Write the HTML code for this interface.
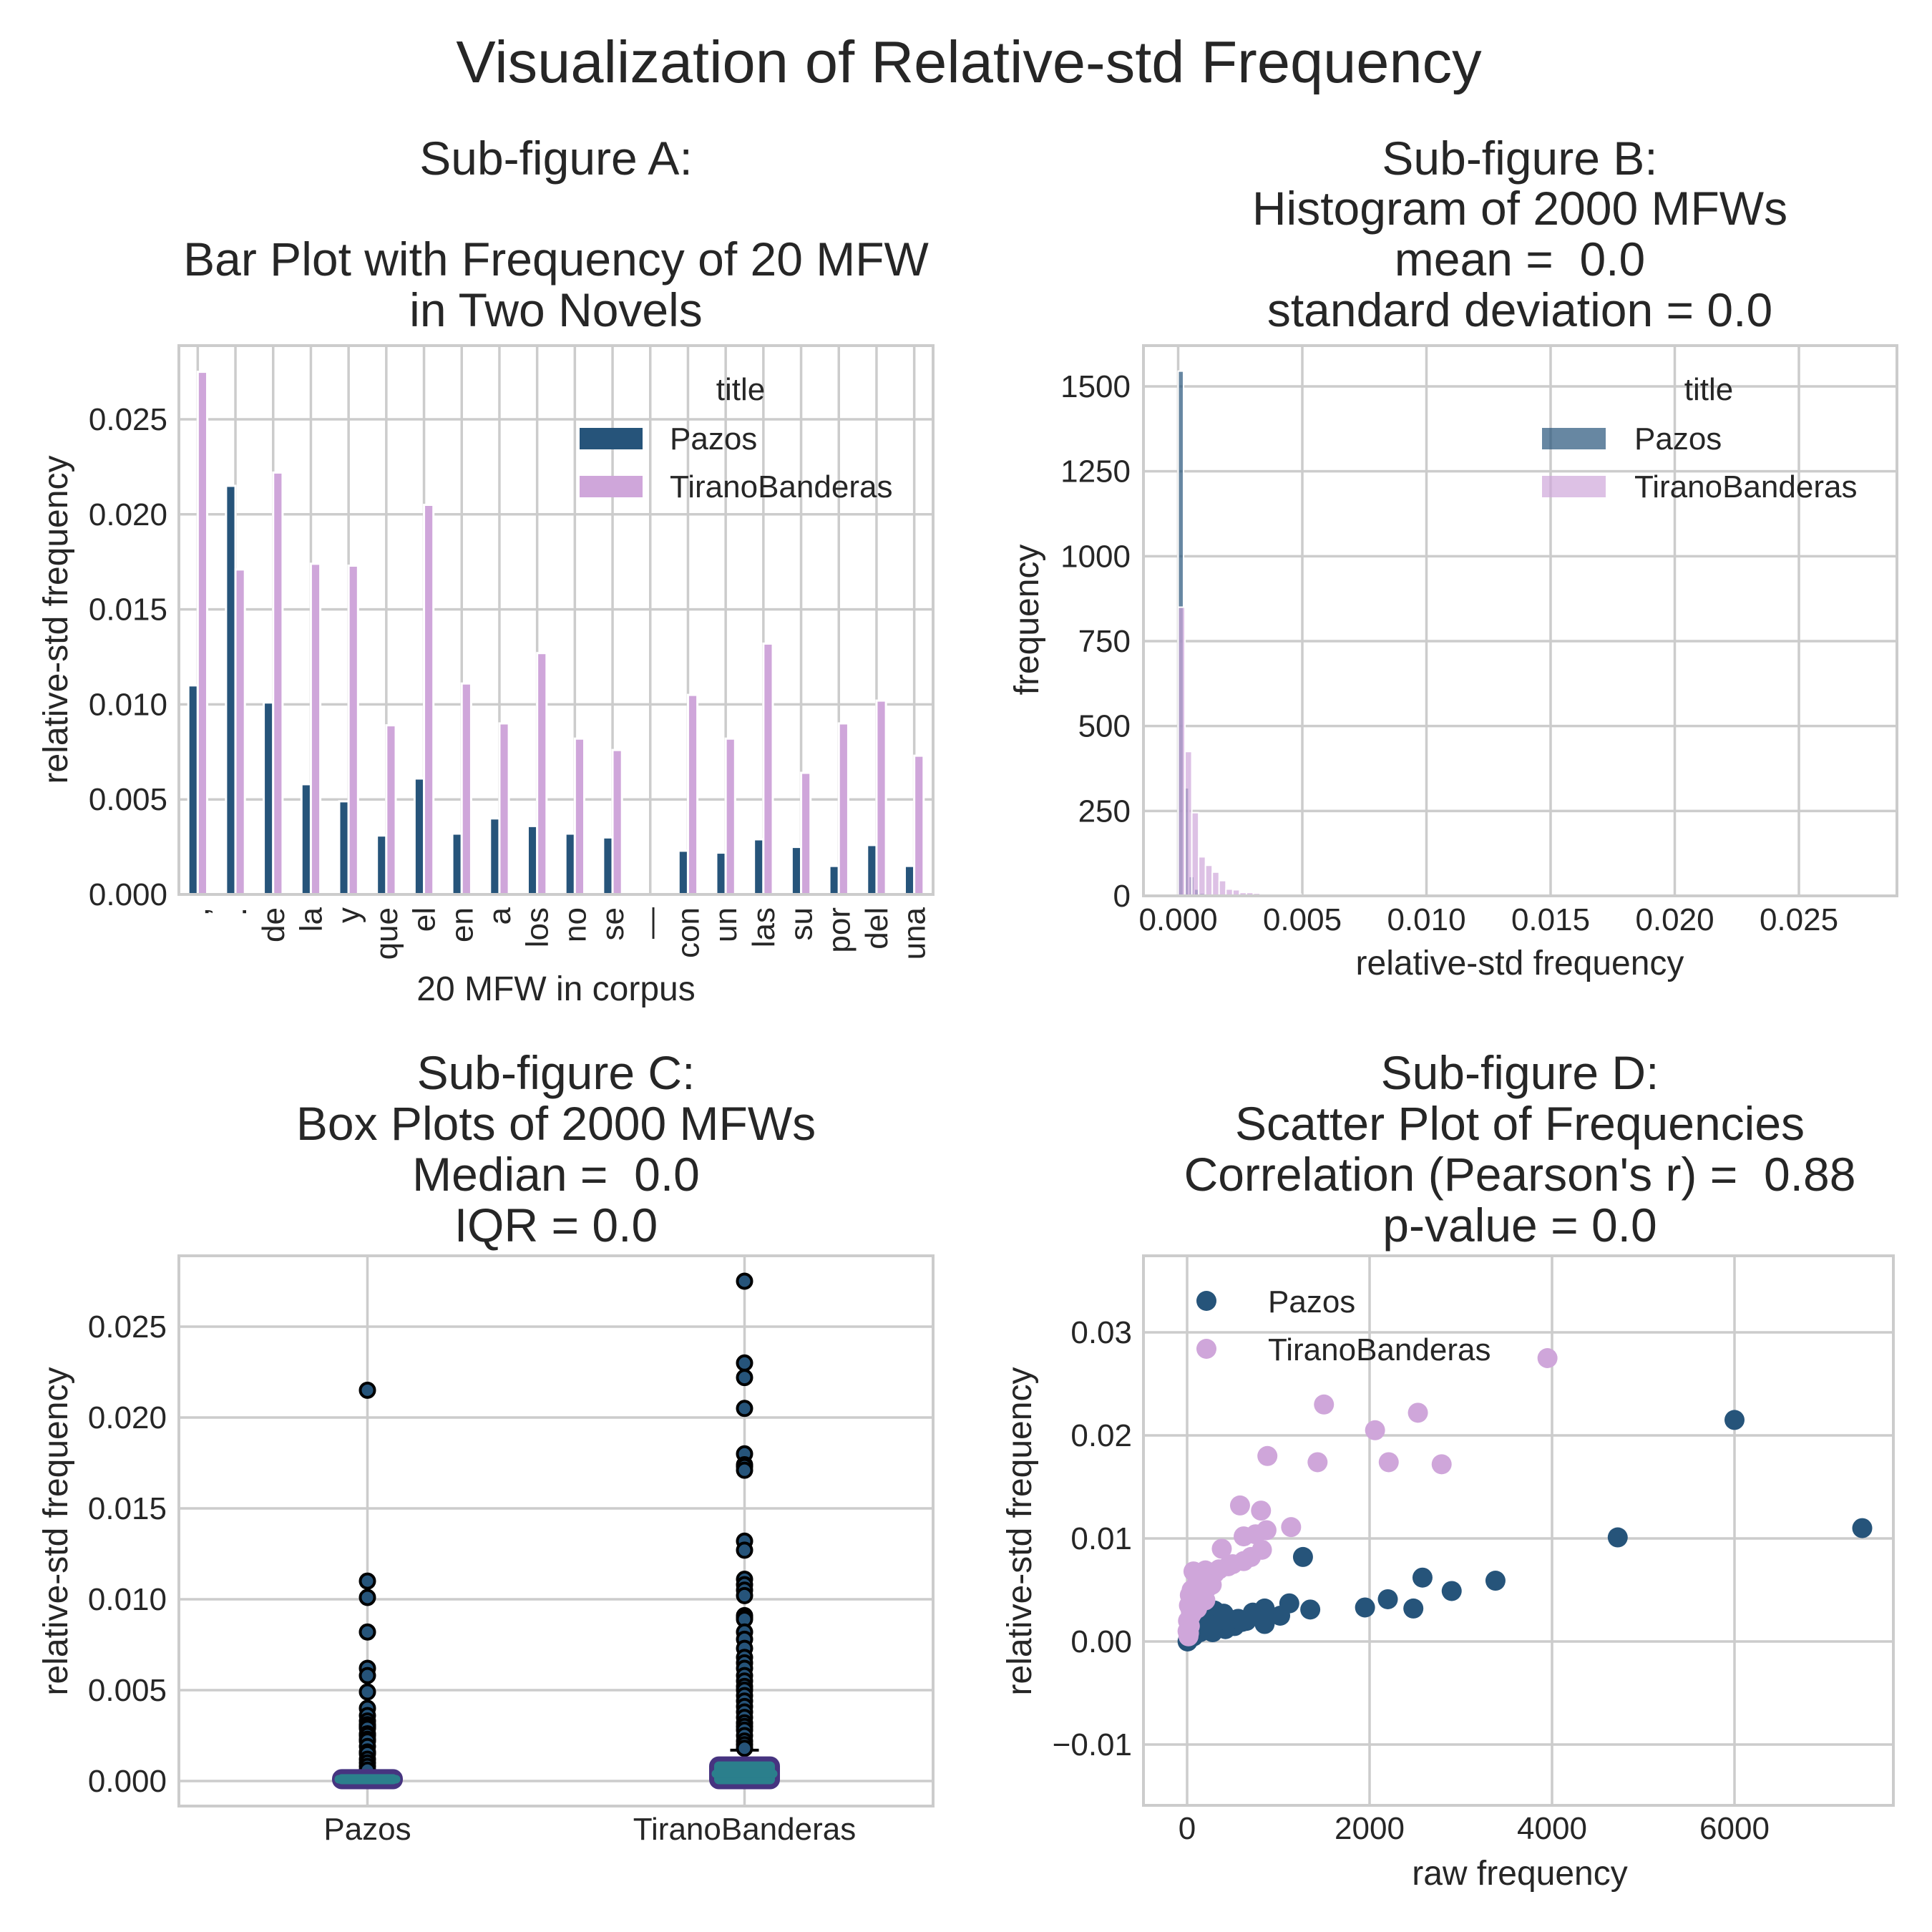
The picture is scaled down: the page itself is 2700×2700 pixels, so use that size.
<!DOCTYPE html>
<html><head><meta charset="utf-8"><style>
html,body{margin:0;padding:0;background:#fff;}
svg{display:block;font-family:"Liberation Sans",sans-serif;fill:#262626;}
text{white-space:pre;}
</style></head><body>
<svg id="fig" width="2700" height="2700" viewBox="0 0 2700 2700" xmlns="http://www.w3.org/2000/svg">
<rect width="2700" height="2700" fill="#fff"/>
<text x="1354" y="115" font-size="83" text-anchor="middle">Visualization of Relative-std Frequency</text>
<g font-size="66" text-anchor="middle">
<text x="777" y="244">Sub-figure A:</text>
<text x="777" y="385">Bar Plot with Frequency of 20 MFW</text>
<text x="777" y="456">in Two Novels</text></g>
<g font-size="66" text-anchor="middle">
<text x="2124" y="244">Sub-figure B:</text>
<text x="2124" y="314">Histogram of 2000 MFWs</text>
<text x="2124" y="385">mean =&#160; 0.0</text>
<text x="2124" y="456">standard deviation = 0.0</text></g>
<g font-size="66" text-anchor="middle">
<text x="777" y="1522">Sub-figure C:</text>
<text x="777" y="1593">Box Plots of 2000 MFWs</text>
<text x="777" y="1664">Median =&#160; 0.0</text>
<text x="777" y="1735">IQR = 0.0</text></g>
<g font-size="66" text-anchor="middle">
<text x="2124" y="1522">Sub-figure D:</text>
<text x="2124" y="1593">Scatter Plot of Frequencies</text>
<text x="2124" y="1664">Correlation (Pearson's r) =&#160; 0.88</text>
<text x="2124" y="1735">p-value = 0.0</text></g>
</svg>
<script>
// ---- Chart A data ----
const words = [",", ".", "de", "la", "y", "que", "el", "en", "a", "los", "no", "se", "—", "con", "un", "las", "su", "por", "del", "una"];
const barPazos = [0.0110, 0.0215, 0.0101, 0.0058, 0.0049, 0.0031, 0.0061, 0.0032, 0.0040, 0.0036, 0.0032, 0.0030, 0, 0.0023, 0.0022, 0.0029, 0.0025, 0.0015, 0.0026, 0.0015];
const barTirano = [0.0275, 0.0171, 0.0222, 0.0174, 0.0173, 0.0089, 0.0205, 0.0111, 0.0090, 0.0127, 0.0082, 0.0076, 0, 0.0105, 0.0082, 0.0132, 0.0064, 0.0090, 0.0102, 0.0073];
const ticksA = [0, 0.005, 0.010, 0.015, 0.020, 0.025];
const tickLabelsA = ["0.000", "0.005", "0.010", "0.015", "0.020", "0.025"];
// ---- Chart B data ----
const histPazosMax = 0.0215;
const histTiranoMax = 0.0275;
const histPazos = [1545, 318, 57, 20, 8, 5, 3, 2, 1, 1, 1, 0, 0, 0, 0, 0, 0, 0, 0, 0];
const histTirano = [850, 425, 245, 115, 90, 70, 45, 20, 18, 10, 10, 8, 5, 4, 3, 2, 2, 5, 2, 1];
const ticksBx = [0, 0.005, 0.010, 0.015, 0.020, 0.025];
const tickLabelsBx = ["0.000", "0.005", "0.010", "0.015", "0.020", "0.025"];
const ticksBy = [0, 250, 500, 750, 1000, 1250, 1500];
// ---- Chart C data ----
const boxNames = ["Pazos", "TiranoBanderas"];
const boxQ1 = [0.0000, 0.0000];
const boxQ3 = [0.0002, 0.0009];
const boxMedian = [0.0001, 0.0004];
const boxWhiskerHigh = [0.0005, 0.0017];
const outPazos = [0.0215, 0.0110, 0.0101, 0.0082, 0.0062, 0.0058, 0.0049, 0.0040, 0.0036, 0.0033, 0.0031, 0.0030, 0.0029, 0.0026, 0.0025, 0.0023, 0.0022, 0.0019, 0.0016, 0.0015, 0.0012, 0.0010, 0.0008, 0.0006];
const outTirano = [0.0275, 0.0230, 0.0222, 0.0205, 0.0180, 0.0174, 0.0173, 0.0171, 0.0132, 0.0127, 0.0111, 0.0108, 0.0105, 0.0102, 0.0091, 0.0090, 0.0089, 0.0082, 0.0078, 0.0073, 0.0068, 0.0065, 0.0062, 0.0058, 0.0055, 0.0052, 0.0050, 0.0047, 0.0044, 0.0041, 0.0038, 0.0035, 0.0032, 0.0030, 0.0028, 0.0025, 0.0022, 0.0020, 0.0018];
const ticksC = [0, 0.005, 0.010, 0.015, 0.020, 0.025];
// ---- Chart D data ----
const scPazosX = [7400, 6000, 4720, 3380, 2900, 2580, 2480, 2200, 1950, 1350, 1270, 1120, 1020, 850, 850, 720, 600, 450, 400, 350, 300, 250, 200, 180, 150, 120, 100, 80, 60, 50, 40, 30, 20, 10, 5, 420, 520, 650, 280, 230, 330, 380, 260, 160, 140, 90, 70, 500, 560];
const scPazosY = [0.0110, 0.0215, 0.0101, 0.0059, 0.0049, 0.0062, 0.0032, 0.0041, 0.0033, 0.0031, 0.0082, 0.0037, 0.0025, 0.0032, 0.0017, 0.0028, 0.0019, 0.0022, 0.0027, 0.0015, 0.0030, 0.0022, 0.0018, 0.0012, 0.0014, 0.0010, 0.0008, 0.0007, 0.0006, 0.0005, 0.0004, 0.0003, 0.0002, 0.0001, 0.0000, 0.0012, 0.0015, 0.0020, 0.0009, 0.0025, 0.0020, 0.0024, 0.0016, 0.0020, 0.0009, 0.0012, 0.0005, 0.0018, 0.0022];
const scTiranoX = [3950, 1500, 2530, 2060, 880, 1430, 2210, 2790, 580, 810, 1140, 870, 750, 620, 380, 820, 700, 620, 450, 300, 200, 70, 150, 250, 100, 50, 30, 20, 120, 180, 60, 40, 10, 5, 90, 220, 140, 350, 500, 40, 80, 110, 30, 160, 60, 200, 20, 15, 270];
const scTiranoY = [0.0275, 0.0230, 0.0222, 0.0205, 0.0180, 0.0174, 0.0174, 0.0172, 0.0132, 0.0127, 0.0111, 0.0108, 0.0104, 0.0102, 0.0090, 0.0089, 0.0082, 0.0078, 0.0073, 0.0066, 0.0069, 0.0068, 0.0060, 0.0062, 0.0055, 0.0050, 0.0045, 0.0035, 0.0048, 0.0058, 0.0040, 0.0030, 0.0020, 0.0010, 0.0042, 0.0052, 0.0046, 0.0070, 0.0075, 0.0025, 0.0038, 0.0032, 0.0015, 0.0044, 0.0028, 0.0040, 0.0008, 0.0005, 0.0055];
const ticksDx = [0, 2000, 4000, 6000];
const ticksDy = [-0.01, 0, 0.01, 0.02, 0.03];
const tickLabelsDy = ["\u22120.01", "0.00", "0.01", "0.02", "0.03"];

const NS = "http://www.w3.org/2000/svg";
const svg = document.getElementById("fig");
const C_PAZ = "#26547a", C_TIR = "#cfa6da", GRID = "#cccccc", TXT = "#262626";
function el(tag, attrs, parent) {
  const e = document.createElementNS(NS, tag);
  for (const k in attrs) e.setAttribute(k, attrs[k]);
  (parent || svg).appendChild(e);
  return e;
}
function txt(s, attrs, parent) { const t = el("text", attrs, parent); t.textContent = s; return t; }
function lin(d0, d1, r0, r1) { return v => r0 + (v - d0) / (d1 - d0) * (r1 - r0); }
function frame(g, L, T, R, B) {
  el("rect", {x: L, y: T, width: R - L, height: B - T, fill: "none", stroke: GRID, "stroke-width": 4}, g);
}

// ================= A =================
(function () {
  const L = 250, R = 1304, T = 483, B = 1250;
  const g = el("g", {});
  
  
  const x = lin(-0.5, 19.5, L, R), y = lin(0, 0.025, B, 586);
  ticksA.forEach((v, i) => {
    el("line", {x1: L, x2: R, y1: y(v), y2: y(v), stroke: GRID, "stroke-width": 3.5}, g);
    const t = txt(tickLabelsA[i], {x: 234, y: y(v) + 15, "font-size": 44, "text-anchor": "end", fill: TXT}, g);
    
    
  });
  words.forEach((w, i) => {
    el("line", {x1: x(i), x2: x(i), y1: T, y2: B, stroke: GRID, "stroke-width": 3.5}, g);
    const t = txt(w, {transform: `translate(${x(i) + 15},1268) rotate(-90)`, "font-size": 44, "text-anchor": "end", fill: TXT}, g);
    
    
  });
  const bw = 0.25;
  words.forEach((w, i) => {
    const r1 = el("rect", {x: x(i - bw), y: y(barPazos[i]), width: x(bw) - x(0), height: y(0) - y(barPazos[i]), fill: C_PAZ, stroke: "#fff", "stroke-width": 3}, g);
    
    
    const r2 = el("rect", {x: x(i), y: y(barTirano[i]), width: x(bw) - x(0), height: y(0) - y(barTirano[i]), fill: C_TIR, stroke: "#fff", "stroke-width": 3}, g);
    
    
  });
  frame(g, L, T, R, B);
  const yl = txt("relative-std frequency", {transform: "translate(94,866) rotate(-90)", "font-size": 48, "text-anchor": "middle", fill: TXT}, g);
  
  
  const xl = txt("20 MFW in corpus", {x: 777, y: 1398, "font-size": 48, "text-anchor": "middle", fill: TXT}, g);
  
  
  const lg = el("g", {}, g);
  
  
  txt("title", {x: 1035, y: 559, "font-size": 44, "text-anchor": "middle", fill: TXT}, lg);
  el("rect", {x: 810, y: 598, width: 88, height: 30, fill: C_PAZ}, lg);
  txt("Pazos", {x: 936, y: 628, "font-size": 44, fill: TXT}, lg);
  el("rect", {x: 810, y: 665, width: 88, height: 30, fill: C_TIR}, lg);
  txt("TiranoBanderas", {x: 936, y: 695, "font-size": 44, fill: TXT}, lg);
})();

// ================= B =================
(function () {
  const L = 1598, R = 2651, T = 483, B = 1252;
  const g = el("g", {});
  
  
  const x = lin(0, 0.025, 1646.5, 2514), y = lin(0, 1500, B, 540);
  ticksBy.forEach(v => {
    el("line", {x1: L, x2: R, y1: y(v), y2: y(v), stroke: GRID, "stroke-width": 3.5}, g);
    const t = txt(String(v), {x: 1580, y: y(v) + 15, "font-size": 44, "text-anchor": "end", fill: TXT}, g);
    
    
  });
  ticksBx.forEach((v, i) => {
    el("line", {x1: x(v), x2: x(v), y1: T, y2: B, stroke: GRID, "stroke-width": 3.5}, g);
    const t = txt(tickLabelsBx[i], {x: x(v), y: 1300, "font-size": 44, "text-anchor": "middle", fill: TXT}, g);
    
    
  });
  const bwP = histPazosMax / 100, bwT = histTiranoMax / 100;
  histPazos.forEach((c, i) => {
    if (!c) return;
    const r = el("rect", {x: x(i * bwP), y: y(c), width: x(bwP) - x(0), height: y(0) - y(c), fill: C_PAZ, "fill-opacity": 0.7, stroke: "#fff", "stroke-width": 2}, g);
    
    
  });
  histTirano.forEach((c, i) => {
    if (!c) return;
    const r = el("rect", {x: x(i * bwT), y: y(c), width: x(bwT) - x(0), height: y(0) - y(c), fill: C_TIR, "fill-opacity": 0.7, stroke: "#fff", "stroke-width": 2}, g);
    
    
  });
  frame(g, L, T, R, B);
  const yl = txt("frequency", {transform: "translate(1451,866) rotate(-90)", "font-size": 48, "text-anchor": "middle", fill: TXT}, g);
  
  
  const xl = txt("relative-std frequency", {x: 2124, y: 1362, "font-size": 48, "text-anchor": "middle", fill: TXT}, g);
  
  
  const lg = el("g", {}, g);
  
  
  txt("title", {x: 2388, y: 559, "font-size": 44, "text-anchor": "middle", fill: TXT}, lg);
  el("rect", {x: 2155, y: 598, width: 89, height: 30, fill: C_PAZ, "fill-opacity": 0.7}, lg);
  txt("Pazos", {x: 2284, y: 628, "font-size": 44, fill: TXT}, lg);
  el("rect", {x: 2155, y: 665, width: 89, height: 30, fill: C_TIR, "fill-opacity": 0.7}, lg);
  txt("TiranoBanderas", {x: 2284, y: 695, "font-size": 44, fill: TXT}, lg);
})();

// ================= C =================
(function () {
  const L = 250, R = 1304, T = 1755, B = 2524;
  const g = el("g", {});
  
  
  const x = lin(0.5, 2.5, L, R), y = lin(0, 0.025, 2489, 1854);
  ticksC.forEach((v, i) => {
    el("line", {x1: L, x2: R, y1: y(v), y2: y(v), stroke: GRID, "stroke-width": 3.5}, g);
    const t = txt(tickLabelsA[i], {x: 233, y: y(v) + 15, "font-size": 44, "text-anchor": "end", fill: TXT}, g);
    
    
  });
  boxNames.forEach((n, i) => {
    const cx = x(i + 1);
    el("line", {x1: cx, x2: cx, y1: T, y2: B, stroke: GRID, "stroke-width": 3.5}, g);
    const t = txt(n, {x: cx, y: 2571, "font-size": 44, "text-anchor": "middle", fill: TXT}, g);
    
    
  });
  boxNames.forEach((n, i) => {
    const cx = x(i + 1), hw = 46;
    const wl = el("line", {x1: cx, x2: cx, y1: y(boxQ3[i]), y2: y(boxWhiskerHigh[i]), stroke: "#000", "stroke-width": 4}, g);
    
    
    el("line", {x1: cx - 20, x2: cx + 20, y1: y(boxWhiskerHigh[i]), y2: y(boxWhiskerHigh[i]), stroke: "#000", "stroke-width": 4}, g);
    const outs = i === 0 ? outPazos : outTirano;
    outs.forEach(v => {
      const c = el("circle", {cx: cx, cy: y(v), r: 10, fill: C_PAZ, stroke: "#000", "stroke-width": 4}, g);
      
      
    });
    const b = el("rect", {x: cx - hw, y: y(boxQ3[i]) - 8, width: 2 * hw, height: y(boxQ1[i]) - y(boxQ3[i]) + 16, rx: 10, fill: "#2b7f8c", stroke: "#463480", "stroke-width": 7}, g);
    
    
    el("line", {x1: cx - hw + 6, x2: cx + hw - 6, y1: y(boxMedian[i]), y2: y(boxMedian[i]), stroke: "#2b7f8c", "stroke-width": 12, "stroke-linecap": "round"}, g);
  });
  frame(g, L, T, R, B);
  const yl = txt("relative-std frequency", {transform: "translate(94,2140) rotate(-90)", "font-size": 48, "text-anchor": "middle", fill: TXT}, g);
  
  
})();

// ================= D =================
(function () {
  const L = 1598, R = 2646, T = 1755, B = 2523;
  const g = el("g", {});
  
  
  const x = lin(0, 6000, 1659, 2424), y = lin(0, 0.01, 2294, 2150);
  ticksDy.forEach((v, i) => {
    el("line", {x1: L, x2: R, y1: y(v), y2: y(v), stroke: GRID, "stroke-width": 3.5}, g);
    const t = txt(tickLabelsDy[i], {x: 1582, y: y(v) + 15, "font-size": 44, "text-anchor": "end", fill: TXT}, g);
    
    
  });
  ticksDx.forEach(v => {
    el("line", {x1: x(v), x2: x(v), y1: T, y2: B, stroke: GRID, "stroke-width": 3.5}, g);
    const t = txt(String(v), {x: x(v), y: 2570, "font-size": 44, "text-anchor": "middle", fill: TXT}, g);
    
    
  });
  scPazosX.forEach((v, i) => {
    const c = el("circle", {cx: x(v), cy: y(scPazosY[i]), r: 14, fill: C_PAZ}, g);
    
    
  });
  scTiranoX.forEach((v, i) => {
    const c = el("circle", {cx: x(v), cy: y(scTiranoY[i]), r: 14, fill: C_TIR}, g);
    
    
  });
  frame(g, L, T, R, B);
  const yl = txt("relative-std frequency", {transform: "translate(1441,2140) rotate(-90)", "font-size": 48, "text-anchor": "middle", fill: TXT}, g);
  
  
  const xl = txt("raw frequency", {x: 2124, y: 2634, "font-size": 48, "text-anchor": "middle", fill: TXT}, g);
  
  
  const lg = el("g", {}, g);
  
  
  el("circle", {cx: 1686, cy: 1818, r: 14, fill: C_PAZ}, lg);
  txt("Pazos", {x: 1772, y: 1834, "font-size": 44, fill: TXT}, lg);
  el("circle", {cx: 1686, cy: 1885, r: 14, fill: C_TIR}, lg);
  txt("TiranoBanderas", {x: 1772, y: 1901, "font-size": 44, fill: TXT}, lg);
})();
</script>
</body></html>
